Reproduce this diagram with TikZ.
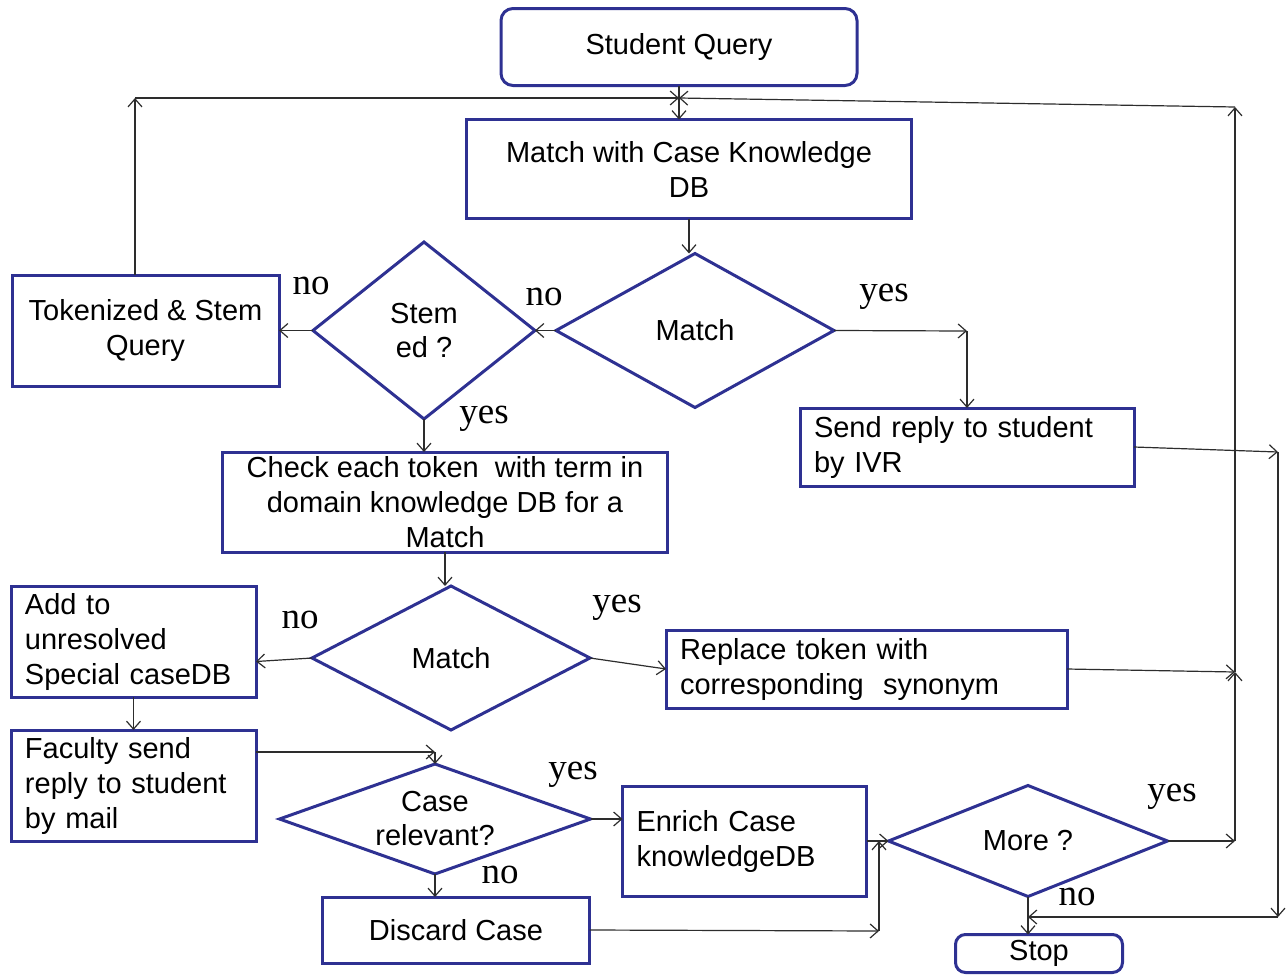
\documentclass[tikz,border=0pt]{standalone}
\usepackage{fontspec}
\setmainfont{Liberation Sans}
\newfontfamily\yesnofont{Liberation Serif}
\usetikzlibrary{arrows.meta}
\usetikzlibrary{positioning,shapes.geometric}
\definecolor{boxblue}{RGB}{46,49,146}
\definecolor{wire}{RGB}{45,45,45}
\tikzstyle{line}=[->, wire, line width=0.6pt]
\tikzstyle{box}=[rectangle, draw=boxblue, line width=1.5pt, text=black, outer sep=0pt,
		inner xsep=7pt, inner ysep=0pt, font=\fontsize{14.5}{17.5}\selectfont]
\tikzstyle{start}=[box, rounded corners=6pt]
\tikzstyle{decision}=[diamond, draw=boxblue, line width=1.5pt, text=black, outer sep=0pt,
		inner sep=0pt, align=center, font=\fontsize{14.5}{17}\selectfont]
\tikzstyle{answer}=[inner sep=0pt, font=\yesnofont\fontsize{18.5}{20}\selectfont]
\begin{document}
\begin{tikzpicture}[x=0.5pt,y=-0.5pt,>={Straight Barb[length=4pt,width=7pt]}]
    \useasboundingbox (0,0) rectangle (1286,975);

    \node (Query) [start, minimum width=178pt, minimum height=38.5pt] at (679,47) {Student Query};

    \node (CaseDB) [box, align=center, minimum width=222.5pt, minimum height=49.5pt,
                    below=17pt of Query, xshift=5pt] {Match with Case Knowledge\\DB};

    \node (MatchCase) [decision, minimum width=139pt, minimum height=77pt,
                       below=17.5pt of CaseDB, xshift=3pt] {Match};

    \node (Stemmed) [decision, minimum width=111pt, minimum height=88.5pt,
                     left=10.5pt of MatchCase] {Stem\\ed ?};

    \node (Tokenize) [box, align=center, minimum width=133.5pt, minimum height=55.5pt,
                      left=17pt of Stemmed] {Tokenized \& Stem\\Query};

    \node (SendIVR) [box, text width=153pt, align=left, minimum height=39pt]
                    at (967,447) {Send reply to student\\by IVR};

    \node (CheckToken) [box, align=center, minimum width=222.5pt, minimum height=50pt,
                        below=16.5pt of Stemmed, xshift=10.5pt]
                       {Check each token~ with term in\\domain knowledge DB for a\\Match};

    \node (MatchDomain) [decision, minimum width=139pt, minimum height=72pt,
                         below=17pt of CheckToken, xshift=3pt] {Match};

    \node (Unresolved) [box, text width=108.5pt, align=left, minimum height=55.5pt,
                        left=28pt of MatchDomain, yshift=8.25pt] {Add to\\unresolved\\Special caseDB};

    \node (Synonym) [box, text width=186.5pt, align=left, minimum height=39pt,
                     right=38pt of MatchDomain, yshift=-5.5pt] {Replace token with\\corresponding~ synonym};

    \node (Faculty) [box, text width=108.5pt, align=left, minimum height=55.5pt,
                     below=16.5pt of Unresolved] {Faculty send\\reply to student\\by mail};

    \node (Relevant) [decision, aspect=3, minimum width=155.5pt, minimum height=55pt]
                     at (435,819) {Case\\relevant?};

    \node (Enrich) [box, text width=108pt, align=left, minimum height=55pt,
                    right=16pt of Relevant, yshift=-11pt] {Enrich Case\\knowledgeDB};

    \node (Discard) [box, align=center, minimum width=133.5pt, minimum height=33pt,
                     below=11.5pt of Relevant, xshift=10.5pt] {Discard Case};

    \node (More) [decision, minimum width=139.5pt, minimum height=55.5pt,
                  right=11pt of Enrich] {More ?};

    \node (Stop) [start, rounded corners=5pt, minimum width=83.5pt, minimum height=19pt,
                  below=19pt of More, xshift=5.5pt] {Stop};

    % turning points of the connectors
    \coordinate (TopJoin) at (679,98);
    \coordinate (LeftTurn) at (135,98);
    \coordinate (RightTurn) at (1235,107);
    \coordinate (RightMid) at (1235,672);
    \coordinate (YesTurn) at (967,331);
    \coordinate (IVRTurn) at (1278,452);
    \coordinate (IVRDown) at (1278,917);
    \coordinate (MailTurn) at (435,752);
    \coordinate (DiscardTurn) at (879,931);

    \draw[line] (Query.south) -- (Query.south |- CaseDB.north);
    \draw[line] (Tokenize.north -| LeftTurn) -- (LeftTurn);
    \draw[line] (LeftTurn) -- (TopJoin);
    \draw[line] (RightTurn) -- (TopJoin);
    \draw[line] (RightMid) -- (RightTurn);
    \draw[line] (More.east) -- (More.east -| RightMid);
    \draw[line] (More.east -| RightMid) -- (RightMid);
    \draw[line] (Synonym.east) -- (RightMid);

    \draw[line] (CaseDB.south) -- (CaseDB.south |- MatchCase.north);
    \draw[line] (MatchCase.west) -- (Stemmed.east);
    \draw[line] (MatchCase.east) -- (YesTurn);
    \draw[line] (YesTurn) -- (SendIVR.north);
    \draw[line] (Stemmed.west) -- (Tokenize.east);
    \draw[line] (Stemmed.south) -- (Stemmed.south |- CheckToken.north);
    \draw[line] (CheckToken.south) -- (CheckToken.south |- MatchDomain.north);
    \draw[line] (MatchDomain.west) -- ([yshift=-10pt]Unresolved.east);
    \draw[line] (MatchDomain.east) -- (Synonym.west);
    \draw[line] (Unresolved.south) -- (Faculty.north);
    \draw[line] (Faculty.east |- MailTurn) -- (MailTurn);
    \draw[line] (MailTurn) -- (Relevant.north);
    \draw[line] (Relevant.east) -- (Relevant.east -| Enrich.west);
    \draw[line] (Relevant.south) -- (Relevant.south |- Discard.north);
    \draw[line] (Discard.east) -- (DiscardTurn);
    \draw[line] (DiscardTurn) -- (DiscardTurn |- More.west);
    \draw[line] (Enrich.east) -- (More.west);
    \draw[line] (More.south) -- (More.south |- Stop.north);
    \draw[line] (SendIVR.east) -- (IVRTurn);
    \draw[line] (IVRTurn) -- (IVRDown);
    \draw[line] (IVRDown) -- (IVRDown -| More.south);

    % yes / no answers
    \node (noMatchCase) [answer] at (544,297) {no};
    \node (yesMatchCase) [answer] at (884,297) {yes};
    \node (noStemmed) [answer] at (311,286) {no};
    \node (yesStemmed) [answer] at (484,419) {yes};
    \node (noMatchDomain) [answer] at (300,620) {no};
    \node (yesMatchDomain) [answer] at (617,608) {yes};
    \node (yesRelevant) [answer] at (573,775) {yes};
    \node (noRelevant) [answer] at (500,875) {no};
    \node (yesMore) [answer] at (1172,797) {yes};
    \node (noMore) [answer] at (1077,897) {no};

  \end{tikzpicture}
\end{document}
